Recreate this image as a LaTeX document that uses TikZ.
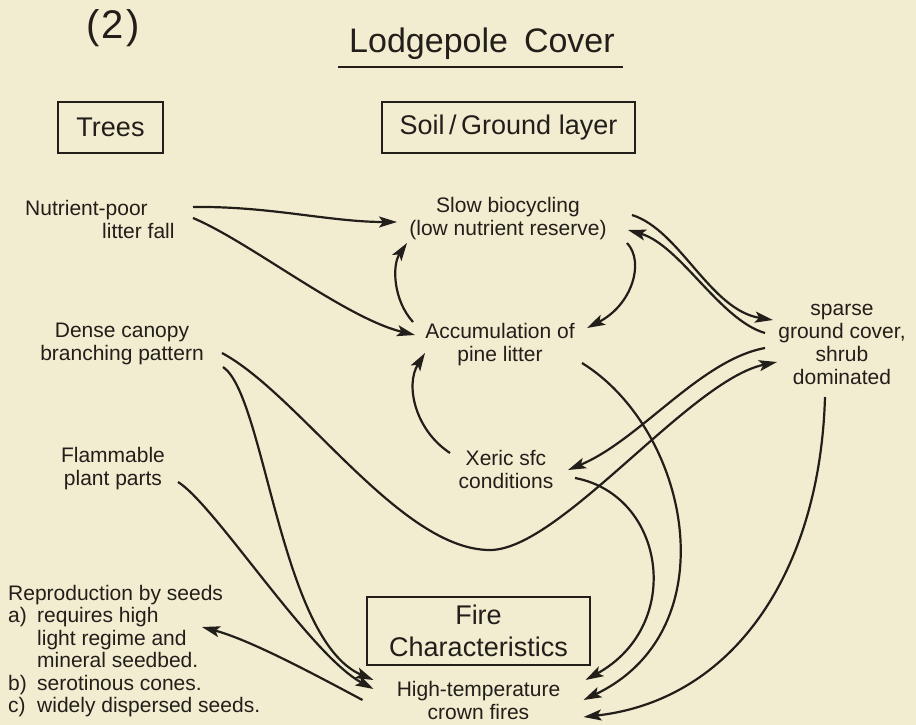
\documentclass[tikz,border=0pt]{standalone}
\usepackage{fontspec}
\setmainfont{Liberation Sans}
\usetikzlibrary{arrows.meta}
\definecolor{bg}{RGB}{242,236,208}
\definecolor{ink}{RGB}{34,30,26}
\begin{document}
\begin{tikzpicture}[x=1pt,y=-1pt,
  every node/.style={text=ink, inner sep=0pt},
  txt/.style={font=\fontsize{21}{23}\selectfont, align=center},
  hdr/.style={draw=ink, line width=1.8pt, font=\fontsize{27}{32}\selectfont, align=center},
  arr/.style={draw=ink, line width=2.2pt, -{Stealth[length=18pt,width=11pt,inset=4pt]}},
  con/.style={draw=ink, line width=2.2pt}]
\fill[bg] (0,0) rectangle (916,725);
\useasboundingbox (0,0) rectangle (916,725);

% headings
\node[font=\fontsize{40}{44}\selectfont] (two) at (113,28) {(\kern2pt2\kern2pt)};
\node[font=\fontsize{34}{40}\selectfont] (title) at (482,44) {Lodgepole\hspace{16pt}Cover};
\draw[con] ([shift={(-144,23)}]title.center) -- ([shift={(141,23)}]title.center);
\node[hdr, minimum width=105pt, minimum height=51pt] (trees) at (110.5,127.5) {Trees};
\node[hdr, minimum width=253pt, minimum height=51pt] (soil) at (508.5,127.5) {Soil\,/\,Ground layer};

% text nodes
\node[txt, align=left, anchor=west] (nutr) at (25,219) {Nutrient-poor\\\hspace*{77pt}litter fall};
\node[txt] (slow) at (508,219) {Slow biocycling\\(low nutrient reserve)};
\node[txt] (dense) at (122,344) {Dense canopy\\branching pattern};
\node[txt] (acc) at (500,345) {Accumulation of\\pine litter};
\node[txt] (sparse) at (842,344) {sparse\\ground cover,\\shrub\\dominated};
\node[txt] (flam) at (113,469) {Flammable\\plant parts};
\node[txt] (xeric) at (506,469) {Xeric sfc\\conditions};
\node[font=\fontsize{21}{22.4}\selectfont, align=left, anchor=west] (repro) at (8,651)
  {Reproduction by seeds\\
   \makebox[29pt][l]{a)}requires high\\
   \hspace*{29pt}light regime and\\
   \hspace*{29pt}mineral seedbed.\\
   \makebox[29pt][l]{b)}serotinous cones.\\
   \makebox[29pt][l]{c)}widely dispersed seeds.};
\node[hdr, minimum width=223pt, minimum height=68pt] (fire) at (478.5,631) {Fire\\Characteristics};
\node[txt] (crown) at (478.5,700) {High-temperature\\crown fires};

\coordinate (dip) at (490,550);

% connectors
\draw[arr] ([shift={(168,-12)}]nutr.west) .. controls (270,206) and (330,222) .. ([shift={(-111,3)}]slow.center);
\draw[arr] ([shift={(168,-1)}]nutr.west) .. controls (250,242) and (345,318) .. ([shift={(-85,-10)}]acc.center);
\draw[arr] ([shift={(-87,-23)}]acc.center) .. controls (393,300) and (392,265) .. ([shift={(-101,24)}]slow.center);
\draw[arr] ([shift={(119,24)}]slow.center) .. controls (645,262) and (632,305) .. ([shift={(87,-17)}]acc.center);
\draw[arr] ([shift={(124,-4)}]slow.center) .. controls (680,230) and (710,310) .. ([shift={(-69,-24)}]sparse.center);
\draw[arr] ([shift={(-77,-11)}]sparse.center) .. controls (720,320) and (680,245) .. ([shift={(120,11)}]slow.center);
\draw[arr] ([shift={(-77,4)}]sparse.center) .. controls (700,360) and (640,440) .. ([shift={(62,1)}]xeric.center);
\draw[arr] ([shift={(100,9)}]dense.center) .. controls (300,395) and (400,550) .. (dip)
   .. controls (560,550) and (690,380) .. ([shift={(-65,18)}]sparse.center);
\draw[arr] ([shift={(101,23)}]dense.center) .. controls (265,395) and (280,640) .. ([shift={(-105,-20)}]crown.center);
\draw[arr] ([shift={(65,13)}]flam.center) .. controls (215,505) and (310,655) .. ([shift={(-105,-11)}]crown.center);
\draw[arr] ([shift={(-116,0)}]crown.center) .. controls (310,672) and (250,640) .. ([shift={(194,-24)}]repro.west);
\draw[arr] ([shift={(-56,-16)}]xeric.center) .. controls (415,430) and (405,385) .. ([shift={(-75,8)}]acc.center);
\draw[arr] ([shift={(69,9)}]xeric.center) .. controls (665,495) and (685,625) .. ([shift={(107,-20)}]crown.center);
\draw[arr] ([shift={(82,18)}]acc.center) .. controls (690,430) and (730,630) .. ([shift={(105,0)}]crown.center);
\draw[arr] ([shift={(-17,53)}]sparse.center) .. controls (820,570) and (735,700) .. ([shift={(105,17)}]crown.center);
\end{tikzpicture}
\end{document}
